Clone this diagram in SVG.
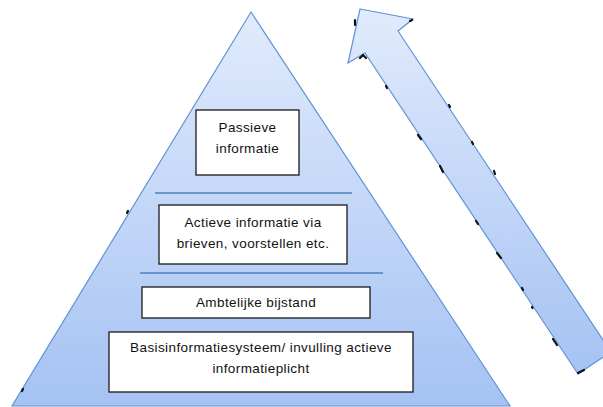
<svg xmlns="http://www.w3.org/2000/svg" width="603" height="407" viewBox="0 0 603 407">
<defs>
<linearGradient id="gTri" x1="0" y1="12" x2="0" y2="406" gradientUnits="userSpaceOnUse">
<stop offset="0" stop-color="#e1ebfc"/>
<stop offset="1" stop-color="#a5c2f3"/>
</linearGradient>
<linearGradient id="gArr" x1="0" y1="9" x2="0" y2="374" gradientUnits="userSpaceOnUse">
<stop offset="0" stop-color="#e1ebfc"/>
<stop offset="1" stop-color="#a5c2f3"/>
</linearGradient>
<style>
.shape{stroke:#5f93d4;stroke-width:1.2}
.box{fill:#ffffff;stroke:#1a1a1a;stroke-width:1.3}
.div{stroke:#4f81bd;stroke-width:1.5}
.lbl{font-family:"Liberation Sans",Arial,sans-serif;font-size:13.5px;letter-spacing:0.4px;fill:#111;text-anchor:middle}
.speck{fill:none;stroke:#111;stroke-width:2.2;stroke-linecap:round}
</style>
</defs>
<g id="pyramid">
<polygon class="shape" points="251,12 12,406 510,406" fill="url(#gTri)"/>
<path class="speck" d="M127,213 l1,-2 M22,391 l1,-2" stroke-width="1.5"/>
</g>
<g id="arrow">
<polygon class="shape" points="360,9 413,19 398,31 611,352 578,374 365,53 348,63" fill="url(#gArr)"/>
<path class="speck" d="M355,20 l0,5 M360,58 l3,-3 l3,3 M386,86 l1,2 M418,135 l3,4 M440,166 l3,6 M449,105 l1,2 M472,142 l1,2 M494,171 l1,3 M476,221 l2,3 M497,253 l4,5 M522,288 l1,2 M532,307 l0.5,1 M553,339 l4,6 M578,373 l6,-3 M410,21 l2,-1"/>
</g>
<g id="connectors">
<line class="div" x1="155" y1="193" x2="352" y2="193"/>
<line class="div" x1="140" y1="273" x2="383" y2="273"/>
</g>
<g id="n1">
<rect class="box" x="196" y="110" width="103" height="65"/>
<text class="lbl" x="247.5" y="132">Passieve</text>
<text class="lbl" x="247.5" y="153">informatie</text>
</g>
<g id="n2">
<rect class="box" x="159" y="205" width="188" height="59"/>
<text class="lbl" x="253" y="227">Actieve informatie via</text>
<text class="lbl" x="253" y="248">brieven, voorstellen etc.</text>
</g>
<g id="n3">
<rect class="box" x="142" y="287" width="228" height="31"/>
<text class="lbl" x="256" y="307">Ambtelijke bijstand</text>
</g>
<g id="n4">
<rect class="box" x="109" y="332" width="304" height="60"/>
<text class="lbl" x="261" y="352">Basisinformatiesysteem/ invulling actieve</text>
<text class="lbl" x="261" y="373">informatieplicht</text>
</g>
</svg>
